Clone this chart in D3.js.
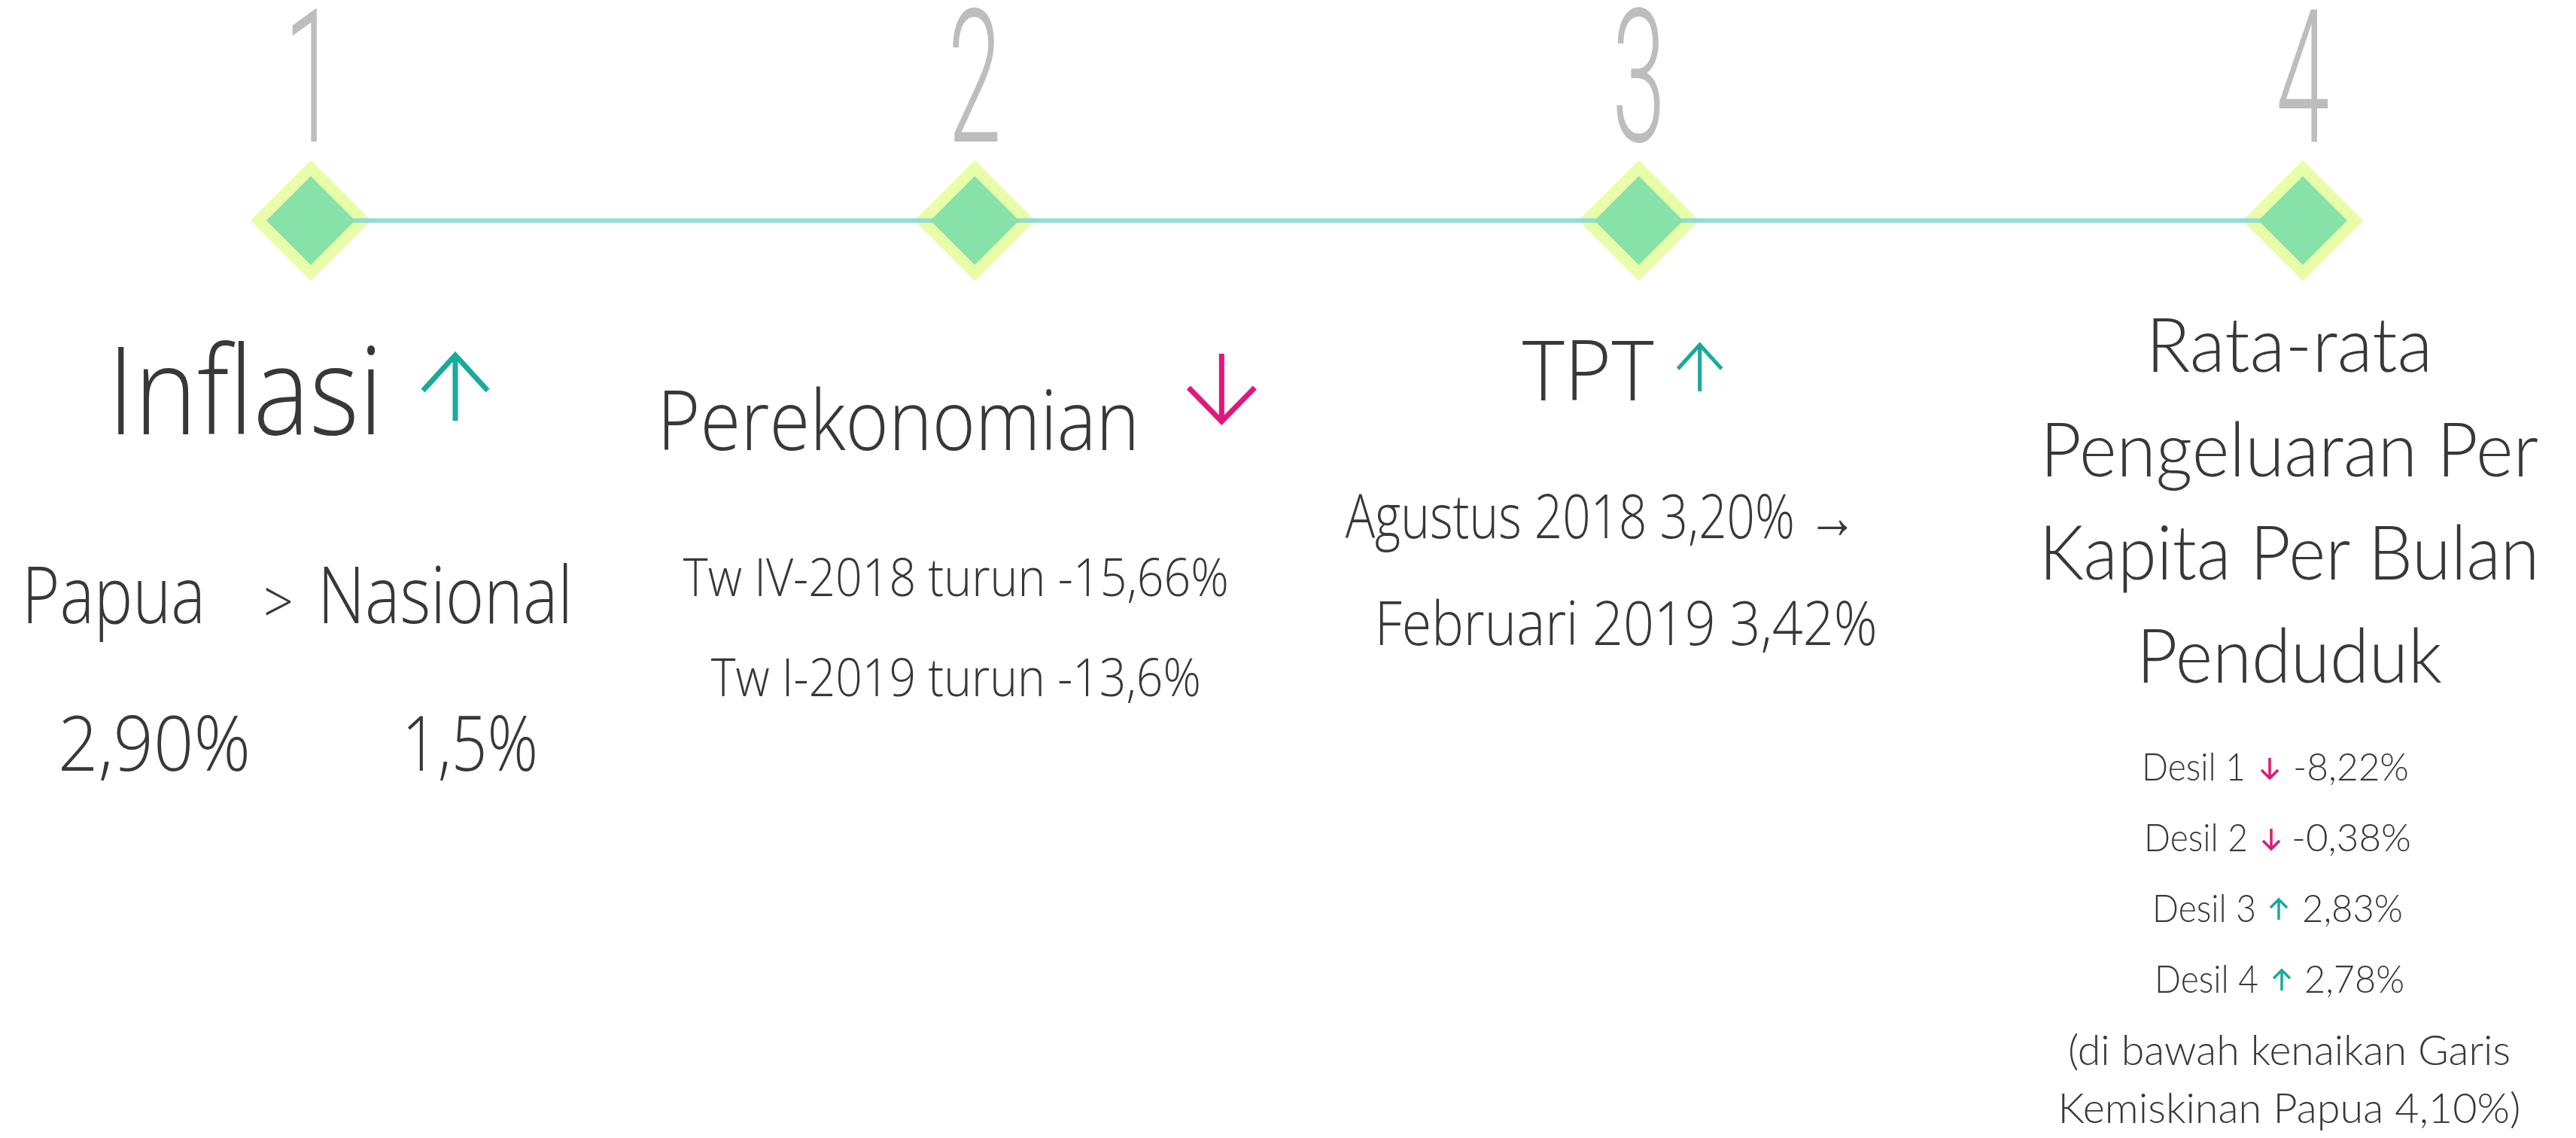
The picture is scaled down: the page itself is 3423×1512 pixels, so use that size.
<!DOCTYPE html>
<html>
<head>
<meta charset="utf-8">
<script src="https://cdn.jsdelivr.net/npm/d3@7"></script>
<style>
  body { margin: 0; background: #fff; }
  svg { display: block; }
</style>
</head>
<body>
<div id="chart"></div>
<script>
// Timeline data
const stages = ["1", "2", "3", "4"];
const titles = ["Inflasi", "Perekonomian", "TPT"];
const titleTrend = ["up", "down", "up"];

const inflasiRegions = ["Papua", "Nasional"];
const inflasiValues = ["2,90%", "1,5%"];

const ekonomiPeriods = ["Tw IV-2018", "Tw I-2019"];
const ekonomiValues = ["-15,66%", "-13,6%"];

const tptPeriods = ["Agustus 2018", "Februari 2019"];
const tptValues = ["3,20%", "3,42%"];

const pengeluaranTitle = ["Rata-rata", "Pengeluaran Per", "Kapita Per Bulan", "Penduduk"];
const desilLabels = ["Desil 1", "Desil 2", "Desil 3", "Desil 4"];
const desilValues = [-8.22, -0.38, 2.83, 2.78];
const garisKemiskinan = "4,10%";

const W = 3423, H = 1512;
const UP = "#19aa9b", DOWN = "#e0177e", INK = "#383838";
const leftFont = "'Open Sans', 'Noto Sans', sans-serif";
const rightFont = "Lato, 'Open Sans', sans-serif";

// Indonesian style decimals, plain hyphen for minus
const fmt2 = d3.formatLocale({ decimal: ",", thousands: ".", grouping: [3], currency: ["", ""], minus: "-" }).format(".2f");

const svg = d3.select("#chart").append("svg")
  .attr("width", W)
  .attr("height", H)
  .attr("viewBox", `0 0 ${W} ${H}`);

const x = d3.scalePoint().domain(stages).range([413, 3060]);
const lineY = 293;

// column centers sit a little left of each diamond
const colShift = [-16, -25, -20, -18];
const col = (i) => x(stages[i]) + colShift[i];

// text helper: width forces the reference's condensed look
function label(g, txt, px, py, size, width, opt = {}) {
  const t = g.append("text")
    .attr("x", px)
    .attr("y", py)
    .attr("font-size", size)
    .attr("font-family", opt.font || leftFont)
    .attr("font-weight", opt.weight || 300)
    .attr("fill", opt.fill || INK)
    .attr("text-anchor", opt.anchor || "middle")
    .text(txt);
  if (width) t.attr("textLength", width).attr("lengthAdjust", "spacingAndGlyphs");
  return t;
}

function arrow(g, cx, top, bottom, halfW, armDy, dir, color, sw) {
  const tip = dir === "up" ? top : bottom;
  const tail = dir === "up" ? bottom : top;
  const armY = dir === "up" ? top + armDy : bottom - armDy;
  g.append("path")
    .attr("d", `M${cx},${tail}L${cx},${tip}M${cx - halfW},${armY}L${cx},${tip}L${cx + halfW},${armY}`)
    .attr("fill", "none")
    .attr("stroke", color)
    .attr("stroke-width", sw)
    .attr("stroke-linecap", "butt")
    .attr("stroke-linejoin", "miter");
}

const diamond = (r) => `M0,${-r}L${r},0L0,${r}L${-r},0Z`;

// ---- timeline ----
const tl = svg.append("g");

tl.selectAll("text.num")
  .data(stages)
  .enter()
  .append("text")
  .attr("class", "num")
  .attr("transform", (d) => `translate(${x(d)},188) scale(0.52,1)`)
  .attr("text-anchor", "middle")
  .attr("font-family", "Roboto, sans-serif")
  .attr("font-weight", 300)
  .attr("font-size", 246)
  .attr("fill", "#bdbdbd")
  .text((d) => d);

tl.selectAll("path.outer")
  .data(stages)
  .enter()
  .append("path")
  .attr("class", "outer")
  .attr("transform", (d) => `translate(${x(d)},${lineY})`)
  .attr("d", diamond(80))
  .attr("fill", "#e9fca8");

tl.append("line")
  .attr("x1", x(stages[0]))
  .attr("x2", x(stages[stages.length - 1]))
  .attr("y1", lineY)
  .attr("y2", lineY)
  .attr("stroke", "#8cd8d4")
  .attr("stroke-opacity", 0.9)
  .attr("stroke-width", 6);

tl.selectAll("path.inner")
  .data(stages)
  .enter()
  .append("path")
  .attr("class", "inner")
  .attr("transform", (d) => `translate(${x(d)},${lineY})`)
  .attr("d", diamond(59))
  .attr("fill", "#87e2a9");

// ---- column 1: Inflasi ----
const c1 = svg.append("g");
const cx1 = col(0);
label(c1, titles[0], cx1 - 254, 577, 162, 366, { anchor: "start" });
arrow(c1, cx1 + 208, 472, 559, 43, 47, titleTrend[0], UP, 7);
label(c1, inflasiRegions[0], cx1 - 368, 828, 106, 244, { anchor: "start" });
label(c1, ">", cx1 - 47, 828, 80, 40, { anchor: "start" });
label(c1, inflasiRegions[1], cx1 + 25, 828, 106, 339, { anchor: "start" });
label(c1, inflasiValues[0], cx1 - 320, 1024, 102, 256, { anchor: "start" });
label(c1, inflasiValues[1], cx1 + 137, 1024, 102, 181, { anchor: "start" });

// ---- column 2: Perekonomian ----
const c2 = svg.append("g");
const cx2 = col(1);
label(c2, titles[1], cx2 - 397, 598, 110, 641, { anchor: "start" });
arrow(c2, cx2 + 353, 470, 560, 44, 45, titleTrend[1], DOWN, 7);
const ekoY = [792, 925], ekoW = [725, 651];
ekonomiPeriods.forEach((p, i) => {
  label(c2, `${p} turun ${ekonomiValues[i]}`, cx2, ekoY[i], 70, ekoW[i]);
});

// ---- column 3: TPT ----
const c3 = svg.append("g");
const cx3 = col(2);
label(c3, titles[2], cx3 - 135, 532, 111, 175, { anchor: "start" });
arrow(c3, cx3 + 101, 458, 520, 29, 32, titleTrend[2], UP, 5);
label(c3, `${tptPeriods[0]} ${tptValues[0]} \u2192`, cx3 - 30, 715, 82, 680);
label(c3, `${tptPeriods[1]} ${tptValues[1]}`, cx3 + 3, 857, 82, 668);

// ---- column 4: Pengeluaran per kapita ----
const c4 = svg.append("g");
const cx4 = col(3);
const titleY = [494, 633, 770, 907], titleW = [381, 662, 665, 406];
pengeluaranTitle.forEach((t, i) => {
  label(c4, t, cx4, titleY[i], 100, titleW[i], { font: rightFont, weight: 300 });
});

// desil rows: label | arrow | value, offsets from the column center
const desilY = [1037, 1131, 1225, 1319];
const desilLabelEnd = [-58, -55, -44, -41];
const desilArrowX = [-26, -24, -14, -10];
const desilValueStart = [5, 3, 17, 20];
const desilValueW = [154, 159, 134, 133];
desilLabels.forEach((d, i) => {
  const v = desilValues[i];
  const y = desilY[i];
  label(c4, d, cx4 + desilLabelEnd[i], y, 52, 138, { font: rightFont, anchor: "end" });
  arrow(c4, cx4 + desilArrowX[i], y - 30, y - 3, 11, 11, v < 0 ? "down" : "up", v < 0 ? DOWN : UP, 3.5);
  label(c4, fmt2(v) + "%", cx4 + desilValueStart[i], y, 52, desilValueW[i], { font: rightFont, anchor: "start" });
});

label(c4, "(di bawah kenaikan Garis", cx4, 1415, 56, 588, { font: rightFont });
label(c4, `Kemiskinan Papua ${garisKemiskinan})`, cx4, 1492, 56, 615, { font: rightFont });
</script>
</body>
</html>
